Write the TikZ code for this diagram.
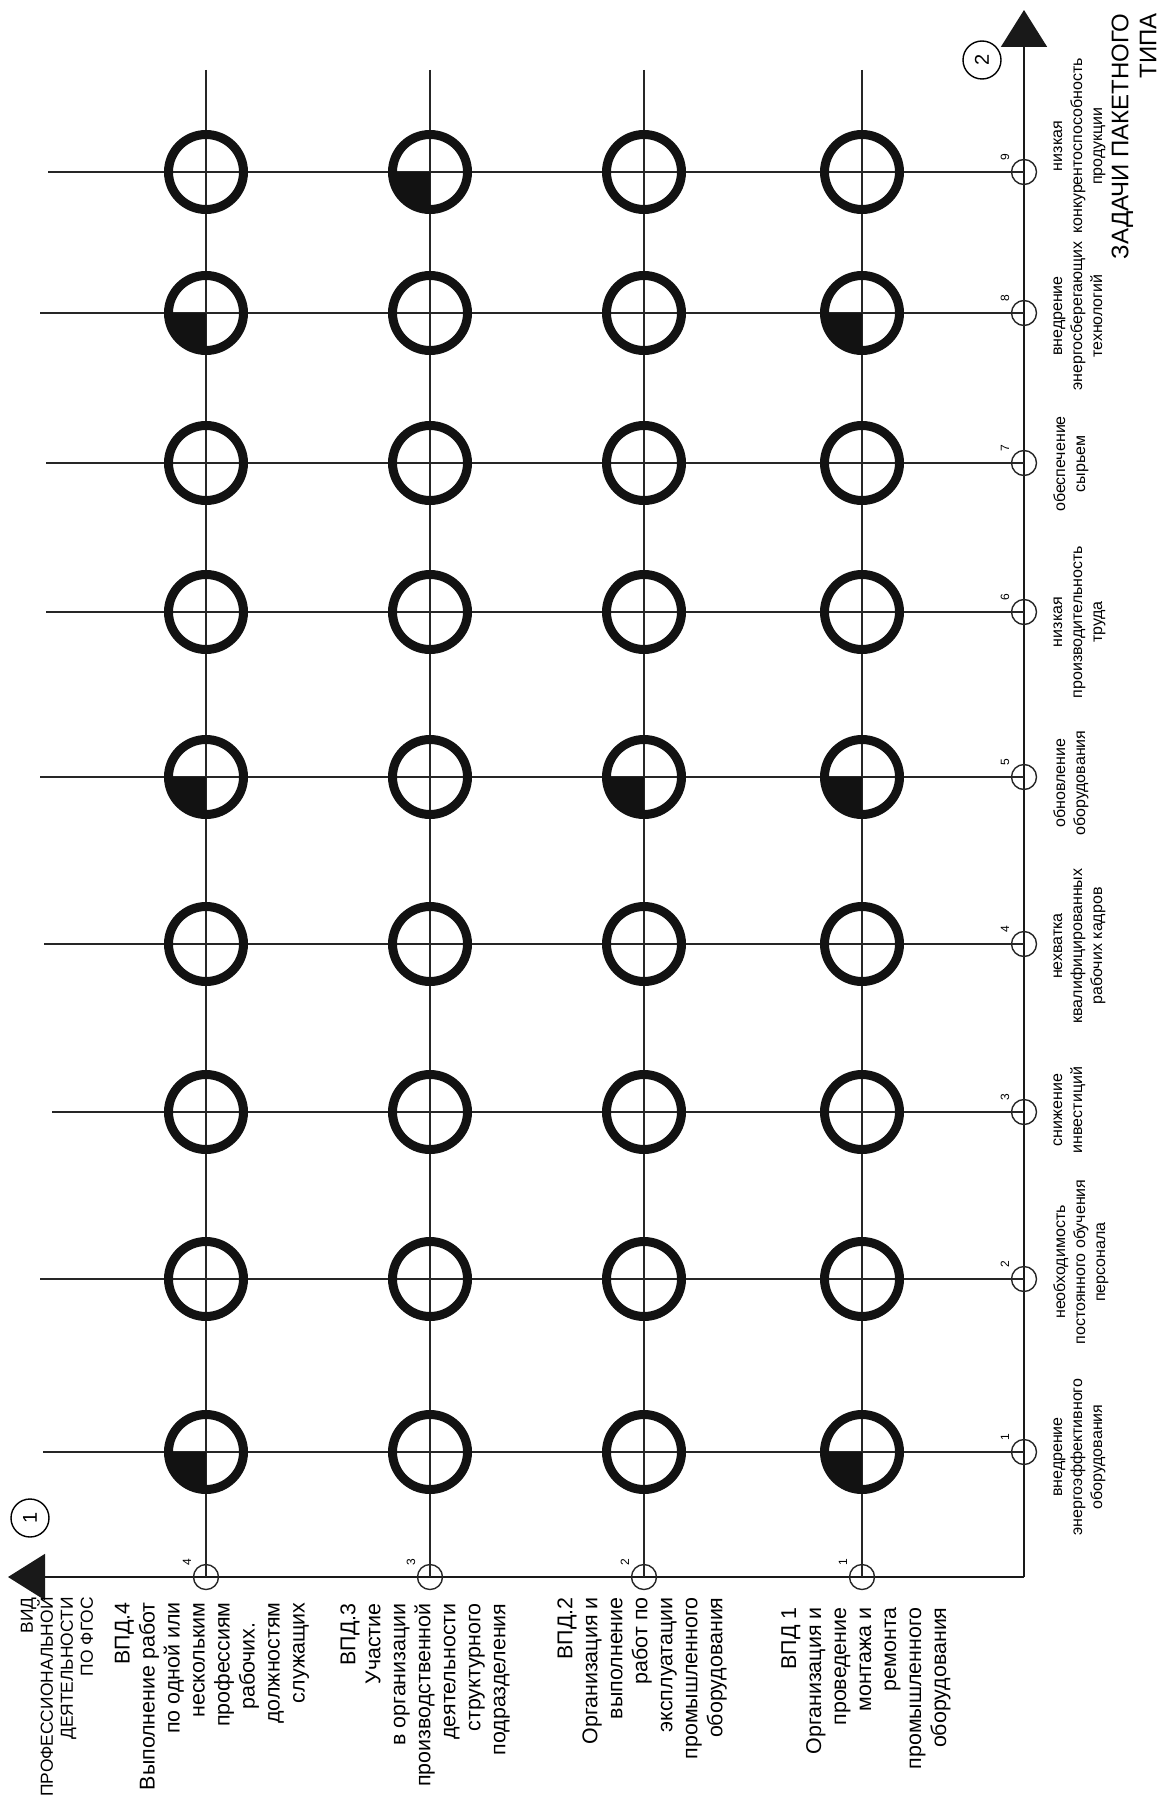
\documentclass[tikz,border=0pt]{standalone}
\usepackage{fontspec}
\setmainfont{Liberation Sans}
\usetikzlibrary{arrows.meta}

\begin{document}
\begin{tikzpicture}[x=0.5pt,y=-0.5pt,
  gline/.style={line width=0.75pt,black!85},
  axline/.style={line width=0.9pt,black!90,-{Triangle[length=18.5pt,width=23pt]}},
  ring/.style={circle,draw=black!93,line width=4.5pt,minimum size=37.5pt,inner sep=0pt},
  axdot/.style={circle,draw=black!85,line width=0.7pt,minimum size=12.5pt,inner sep=0pt},
  num/.style={rotate=90,font=\fontsize{6}{7}\selectfont,inner sep=0pt},
  idx/.style={circle,draw,rotate=90,line width=0.7pt,minimum size=19pt,inner sep=0pt,font=\fontsize{10}{12}\selectfont},
  axislab/.style={rotate=90,anchor=east,align=right,inner sep=0pt},
  rowlab/.style={rotate=90,anchor=east,align=right,inner sep=0pt,font=\fontsize{10.7}{12.5}\selectfont},
  collab/.style={rotate=90,anchor=north,align=center,inner sep=0pt,font=\fontsize{8}{10}\selectfont}]

\fill[white] (0,0) rectangle (1163,1798);
\useasboundingbox (0,0) rectangle (1163,1798);

% axes
\coordinate (O) at (1024,1577);
\coordinate (xtip) at (8,1577);
\coordinate (ytip) at (1024,10);
\draw[axline] (O) -- (xtip);
\draw[axline] (O) -- (ytip);

% rows (vid) and columns (zadachi)
\foreach \r/\x in {4/206,3/430,2/644,1/862}{
  \node[axdot] (v\r) at (\x,1577) {};
  \node[num] at (\x-19,1562) {\r};
  \coordinate (vt\r) at (\x,70);
  \draw[gline] (vt\r) -- (v\r.center);
}
\foreach \c/\y/\l in {1/1452/43,2/1279/40,3/1112/52,4/944/44,5/777/40,6/612/46,7/463/46,8/313/40,9/172/48}{
  \node[axdot] (h\c) at (1024,\y) {};
  \node[num] at (1005,\y-15) {\c};
  \coordinate (hl\c) at (\l,\y);
  \draw[gline] (hl\c) -- (h\c.center);
}

% quarter marks
\foreach \r/\c in {4/1,4/5,4/8,3/9,2/5,1/1,1/5,1/8}
  \fill[black!93] (v\r.center |- h\c.center) -- ++(-38,0) arc[start angle=180,end angle=90,radius=38] -- cycle;
\foreach \r in {1,...,4}
  \foreach \c in {1,...,9}
    \node[ring] (m\r\c) at (v\r.center |- h\c.center) {};

\node[idx] (n1) at (30,1518) {1};
\node[idx] (n2) at (982,60) {2};

\node[axislab,font=\fontsize{8.7}{10}\selectfont] (vid) at (57,1597) {ВИД\\ПРОФЕССИОНАЛЬНОЙ\\ДЕЯТЕЛЬНОСТИ\\ПО ФГОС};
\node[axislab,font=\fontsize{12}{14}\selectfont] (zad) at (1134,13) {ЗАДАЧИ ПАКЕТНОГО\\ТИПА};

\node[rowlab] (l4) at (212,1602) {ВПД.4\\Выполнение работ\\по одной или\\нескольким\\профессиям\\рабочих.\hbox to 10pt{}\\должностям\\служащих};
\node[rowlab] (l3) at (425,1603) {ВПД.3\\Участие\\в организации\\производственной\\деятельности\\структурного\\подразделения};
\node[rowlab] (l2) at (642,1597) {ВПД.2\\Организация и\\выполнение\\работ по\\эксплуатации\\промышленного\\оборудования};
\node[rowlab] (l1) at (866,1607) {ВПД 1\\Организация и\\проведение\\монтажа и\\ремонта\\промышленного\\оборудования};

\node[collab] (t1) at (1053,1457) {внедрение\\энергоэффективного\\оборудования};
\node[collab] (t2) at (1053,1262) {необходимость\\постоянного обучения\\персонала};
\node[collab] (t3) at (1053,1110) {снижение\\инвестиций};
\node[collab] (t4) at (1053,946) {нехватка\\квалифицированных\\рабочих кадров};
\node[collab] (t5) at (1053,783) {обновление\\оборудования};
\node[collab] (t6) at (1053,622) {низкая\\производительность\\труда};
\node[collab] (t7) at (1053,464) {обеспечение\\сырьем};
\node[collab] (t8) at (1053,316) {внедрение\\энергосберегающих\\технологий};
\node[collab] (t9) at (1053,146) {низкая\\конкурентоспособность\\продукции};
\end{tikzpicture}
\end{document}
